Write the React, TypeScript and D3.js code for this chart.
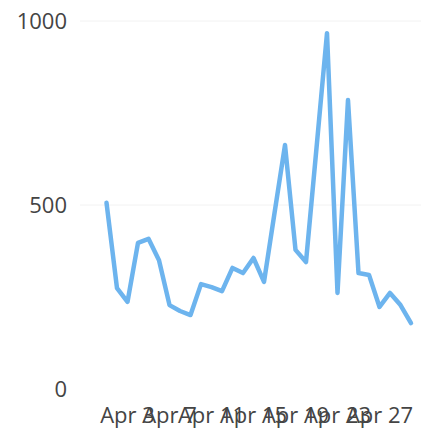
import React from "react";
import * as d3 from "d3";

const days: number[] = Array.from({ length: 30 }, (_, i) => i + 1);
const values: number[] = [
  506, 274, 237, 397, 408, 350, 228, 212, 201, 285,
  277, 266, 329, 315, 356, 291, 478, 663, 378, 345,
  655, 967, 261, 785, 315, 310, 223, 261, 228, 179,
];
const xTickDays: number[] = [3, 7, 11, 15, 19, 23, 27];
const yTicks: number[] = [0, 500, 1000];

const W = 421;
const H = 435;

export default function App() {
  const x = d3.scaleLinear().domain([1, 30]).range([106.5, 411]);
  const y = d3.scaleLinear().domain([0, 1000]).range([389, 21]);
  const line = d3
    .line<number>()
    .x((_, i) => x(days[i]))
    .y((d) => y(d));
  const font = "'Open Sans', 'Noto Sans', sans-serif";
  return (
    <svg
      width={W}
      height={H}
      style={{ position: "absolute", left: 0, top: 0, background: "#fff" }}
    >
      {yTicks.map((t) => (
        <g key={t}>
          {t > 0 && (
            <line x1={80} x2={W} y1={y(t)} y2={y(t)} stroke="#f2f2f2" strokeWidth={1} />
          )}
          <text
            x={67}
            y={y(t)}
            dy="0.36em"
            textAnchor="end"
            fontFamily={font}
            fontSize={22}
            fill="#444"
          >
            {t}
          </text>
        </g>
      ))}
      <path
        d={line(values) || ""}
        fill="none"
        stroke="#6db4ee"
        strokeWidth={4.5}
        strokeLinejoin="round"
        strokeLinecap="round"
      />
      {xTickDays.map((d) => (
        <text
          key={d}
          x={x(d)}
          y={423}
          textAnchor="middle"
          fontFamily={font}
          fontSize={22}
          fill="#444"
        >
          {`Apr ${d}`}
        </text>
      ))}
    </svg>
  );
}
